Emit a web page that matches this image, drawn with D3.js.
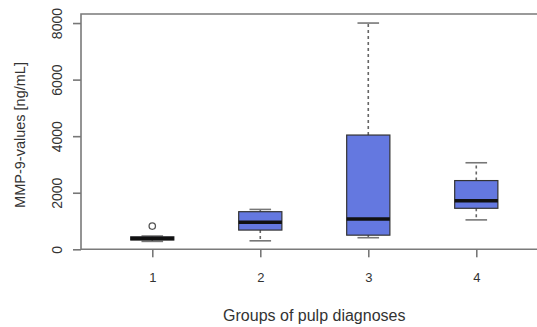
<!DOCTYPE html>
<html>
<head>
<meta charset="utf-8">
<script src="https://cdn.jsdelivr.net/npm/d3@7"></script>
<style>
  html, body { margin: 0; padding: 0; background: #fff; }
  svg { display: block; font-family: "Liberation Sans", Arial, sans-serif; }
</style>
</head>
<body>
<svg id="chart" width="537" height="327"></svg>
<script>
// ---- data ----
const groups      = [1, 2, 3, 4];
const lowWhisker  = [280, 300, 410, 1040];
const q1          = [330, 680, 500, 1450];
const median      = [380, 955, 1070, 1720];
const q3          = [440, 1330, 4040, 2430];
const highWhisker = [470, 1410, 8000, 3060];
const outliers    = [{ group: 1, value: 820 }];
const yTicks      = [0, 2000, 4000, 6000, 8000];
const xLabel = "Groups of pulp diagnoses";
const yLabel = "MMP-9-values [ng/mL]";

// ---- layout ----
const svg = d3.select("#chart");
const plot = { left: 81, top: 14, bottom: 249.3 };
const x = d3.scaleLinear().domain([0.34, 4.66]).range([plot.left, plot.left + 4.32 * 108]);
const y = d3.scaleLinear().domain([0, 8320]).range([plot.bottom, plot.top]);
const boxW = x(1.4) - x(1);   // boxwex 0.8
const capW = boxW / 2;        // staplewex 0.5

const fill = "#6478E0";

// boxes
const data = groups.map((g, i) => ({
  g, lo: lowWhisker[i], q1: q1[i], med: median[i], q3: q3[i], hi: highWhisker[i]
}));

const gBox = svg.append("g");
data.forEach(d => {
  const cx = x(d.g);
  // whiskers (dashed)
  gBox.append("line").attr("x1", cx).attr("x2", cx).attr("y1", y(d.q3)).attr("y2", y(d.hi))
    .attr("stroke", "#666").attr("stroke-width", 1.6).attr("stroke-dasharray", "3,3");
  gBox.append("line").attr("x1", cx).attr("x2", cx).attr("y1", y(d.q1)).attr("y2", y(d.lo))
    .attr("stroke", "#666").attr("stroke-width", 1.6).attr("stroke-dasharray", "3,3");
  // caps
  [d.lo, d.hi].forEach(v => {
    gBox.append("line").attr("x1", cx - capW / 2).attr("x2", cx + capW / 2)
      .attr("y1", y(v)).attr("y2", y(v)).attr("stroke", "#777").attr("stroke-width", 1.6);
  });
  // box
  gBox.append("rect").attr("x", cx - boxW / 2).attr("width", boxW)
    .attr("y", y(d.q3)).attr("height", y(d.q1) - y(d.q3))
    .attr("fill", fill).attr("stroke", "#333").attr("stroke-width", 1.2);
  // median
  gBox.append("line").attr("x1", cx - boxW / 2).attr("x2", cx + boxW / 2)
    .attr("y1", y(d.med)).attr("y2", y(d.med)).attr("stroke", "#111").attr("stroke-width", 3.5);
});

// outliers
svg.selectAll("circle.out").data(outliers).enter().append("circle")
  .attr("cx", d => x(d.group)).attr("cy", d => y(d.value)).attr("r", 3.2)
  .attr("fill", "none").attr("stroke", "#555").attr("stroke-width", 1.3);

// frame
svg.append("path")
  .attr("d", `M${x.range()[1]},${plot.top}H${plot.left}V${plot.bottom}H${x.range()[1]}`)
  .attr("fill", "none").attr("stroke", "#7a7a7a").attr("stroke-width", 1.6);

// y axis
const yAxis = svg.append("g").attr("transform", `translate(${plot.left},0)`)
  .call(d3.axisLeft(y).tickValues(yTicks).tickSize(8).tickFormat(d3.format("d")));
yAxis.select(".domain").remove();
yAxis.selectAll(".tick line").attr("stroke", "#777").attr("stroke-width", 1.6);
yAxis.selectAll(".tick text")
  .attr("transform", "rotate(-90)")
  .attr("x", 0).attr("y", -19).attr("dy", null)
  .attr("text-anchor", "middle")
  .attr("fill", "#333").style("font-size", "14px");

// x axis
const xAxis = svg.append("g").attr("transform", `translate(0,${plot.bottom})`)
  .call(d3.axisBottom(x).tickValues(groups).tickSize(8).tickFormat(d3.format("d")));
xAxis.select(".domain").remove();
xAxis.selectAll(".tick line").attr("stroke", "#777").attr("stroke-width", 1.6);
xAxis.selectAll(".tick text").attr("y", 33).attr("dy", null)
  .attr("fill", "#333").style("font-size", "13px");

// axis titles
svg.append("text").attr("x", x(2.5)).attr("y", 321).attr("text-anchor", "middle")
  .attr("fill", "#333").style("font-size", "16px").text(xLabel);
svg.append("text").attr("transform", "translate(25,135) rotate(-90)")
  .attr("text-anchor", "middle").attr("fill", "#333").style("font-size", "14.5px").text(yLabel);
</script>
</body>
</html>
